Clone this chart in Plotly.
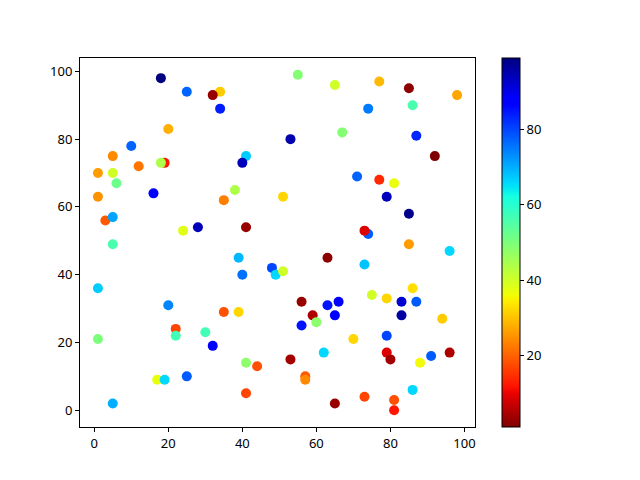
import numpy as np
import plotly.graph_objects as go

x_vals = [25, 34, 34, 20, 10, 5, 12, 19, 18, 1, 5, 6, 55, 65, 53, 67, 41, 40, 77, 85,
          98, 74, 86, 87, 92, 71, 77, 81, 1, 16, 3, 5, 24, 28, 5, 1, 20, 38, 35, 51,
          41, 39, 63, 40, 48, 49, 51, 56, 63, 66, 79, 85, 74, 73, 85, 96, 73, 86, 75, 79,
          83, 87, 22, 22, 30, 32, 1, 17, 19, 25, 5, 35, 39, 41, 44, 41, 59, 60, 56, 65,
          62, 53, 57, 57, 65, 83, 94, 70, 79, 79, 80, 91, 96, 88, 86, 73, 81, 81, 18, 32]
y_vals = [94, 94, 89, 83, 78, 75, 72, 73, 73, 70, 70, 67, 99, 96, 80, 82, 75, 73, 97, 95,
          93, 89, 90, 81, 75, 69, 68, 67, 63, 64, 56, 57, 53, 54, 49, 36, 31, 65, 62, 63,
          54, 45, 45, 40, 42, 40, 41, 32, 31, 32, 63, 58, 52, 53, 49, 47, 43, 36, 34, 33,
          32, 32, 24, 22, 23, 19, 21, 9, 9, 10, 2, 29, 29, 14, 13, 5, 28, 26, 25, 28,
          17, 15, 10, 9, 2, 28, 27, 21, 22, 17, 15, 16, 17, 14, 6, 4, 3, 0, 98, 93]
c_vals = [77, 31, 84, 28, 77, 24, 22, 12, 44, 26, 40, 52, 49, 40, 95, 49, 67, 94, 29, 2,
          27, 75, 56, 83, 1, 77, 14, 37, 25, 88, 19, 71, 38, 94, 56, 67, 74, 44, 23, 32,
          3, 69, 2, 76, 80, 66, 40, 3, 85, 88, 94, 98, 78, 9, 26, 66, 68, 33, 40, 32,
          92, 78, 17, 57, 57, 88, 50, 37, 66, 78, 70, 18, 32, 48, 18, 17, 5, 48, 85, 88,
          66, 4, 19, 24, 3, 96, 31, 32, 80, 9, 4, 78, 5, 36, 66, 17, 18, 12, 99, 3]
colorbar_ticks = [20, 40, 60, 80]

# matplotlib "jet" segment data, reversed (jet_r)
def seg(points, t):
    xs = [p[0] for p in points]
    ys = [p[1] for p in points]
    return float(np.interp(t, xs, ys))

red = [(0, 0), (0.35, 0), (0.66, 1), (0.89, 1), (1, 0.5)]
green = [(0, 0), (0.125, 0), (0.375, 1), (0.64, 1), (0.91, 0), (1, 0)]
blue = [(0, 0.5), (0.11, 1), (0.34, 1), (0.65, 0), (1, 0)]
stops = sorted(set([p[0] for p in red + green + blue]))
colorscale = []
for s in sorted(set([1 - t for t in stops])):
    t = 1 - s
    r, g, b = seg(red, t), seg(green, t), seg(blue, t)
    colorscale.append([s, f"rgb({round(r*255)},{round(g*255)},{round(b*255)})"])

font = dict(family="Noto Sans, DejaVu Sans, sans-serif", size=13, color="black")

fig = go.Figure(go.Scatter(
    x=x_vals, y=y_vals, mode="markers",
    marker=dict(
        color=c_vals, colorscale=colorscale, cmin=min(c_vals), cmax=max(c_vals),
        size=10, line=dict(width=0),
        colorbar=dict(
            x=1.068, xanchor="left", xref="paper", xpad=0, ypad=0,
            y=0, yanchor="bottom", len=1, lenmode="fraction",
            thickness=18, thicknessmode="pixels",
            outlinewidth=1, outlinecolor="black",
            tickvals=colorbar_ticks, ticks="outside", ticklen=4, tickwidth=1,
            tickcolor="black", tickfont=font,
        ),
    ),
    showlegend=False,
))

axis_common = dict(showgrid=False, zeroline=False, showline=True, linecolor="black",
                   linewidth=1, mirror=True, ticks="outside", ticklen=4, tickwidth=1,
                   tickcolor="black", tickfont=font)
fig.update_xaxes(range=[-3.85, 102.85], tickvals=[0, 20, 40, 60, 80, 100], **axis_common)
fig.update_yaxes(range=[-4.95, 103.95], tickvals=[0, 20, 40, 60, 80, 100], **axis_common)
fig.update_layout(
    width=632, height=472,
    margin=dict(l=72, r=165, t=50, b=53),
    plot_bgcolor="white", paper_bgcolor="white",
    font=font,
)
fig.write_html("out.html")
